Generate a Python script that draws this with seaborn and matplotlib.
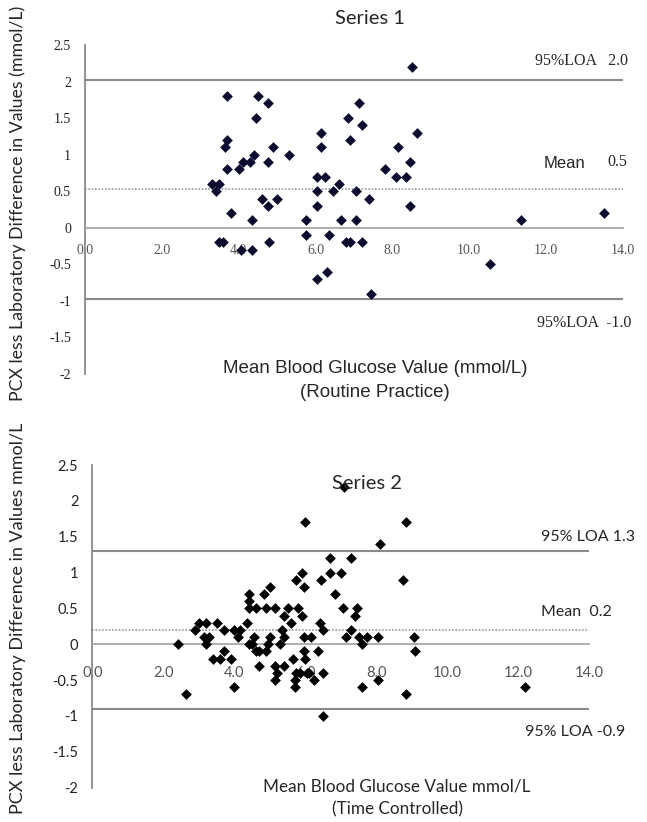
import seaborn as sns
import matplotlib.pyplot as plt

# Series 1 (routine practice): mean glucose vs PCX minus lab difference
s1_mean = [3.3, 3.5, 3.4, 3.5, 3.6, 3.7, 3.7, 3.65, 3.7, 3.8, 4.0, 4.1, 4.05, 4.3, 4.4,
           4.35, 4.35, 4.45, 4.5, 4.6, 4.75, 4.75, 4.75, 4.8, 4.9, 5.0, 5.3, 5.75, 5.75,
           6.05, 6.05, 6.05, 6.05, 6.15, 6.15, 6.25, 6.3, 6.35, 6.45, 6.6, 6.65, 6.8,
           6.85, 6.9, 6.9, 7.05, 7.05, 7.13, 7.2, 7.2, 7.4, 7.45, 7.8, 8.1, 8.15, 8.35,
           8.45, 8.45, 8.5, 8.65, 10.55, 11.35, 13.5]
s1_diff = [0.6, 0.6, 0.5, -0.2, -0.2, 1.8, 1.2, 1.1, 0.8, 0.2, 0.8, 0.9, -0.3, 0.9, 1.0,
           0.1, -0.3, 1.5, 1.8, 0.4, 1.7, 0.9, 0.3, -0.2, 1.1, 0.4, 1.0, 0.1, -0.1,
           0.7, 0.5, 0.3, -0.7, 1.3, 1.1, 0.7, -0.6, -0.1, 0.5, 0.6, 0.1, -0.2,
           1.5, 1.2, -0.2, 0.5, 0.1, 1.7, 1.4, -0.2, 0.4, -0.9, 0.8, 0.7, 1.1, 0.7,
           0.9, 0.3, 2.2, 1.3, -0.5, 0.1, 0.2]
s1_limits = [2.02, 0.53, -0.97]

# Series 2 (time controlled)
s2_mean = [2.4, 2.65, 2.9, 3.0, 3.2, 3.15, 3.3, 3.2, 3.5, 3.7, 3.4, 3.6, 3.9, 3.7, 4.0,
           4.0, 4.15, 4.1, 4.35, 4.4, 4.4, 4.4, 4.6, 4.4, 4.5, 4.55, 4.6, 4.7, 4.9, 4.7,
           4.85, 5.0, 4.9, 5.15, 5.0, 4.95, 5.15, 5.2, 5.15, 5.4, 5.3, 5.4, 5.35, 5.4,
           5.5, 5.6, 5.75, 5.9, 5.95, 5.8, 5.9, 5.95, 5.95, 6.0, 5.65, 5.7, 5.7, 5.85,
           6.05, 6.7, 7.3, 6.45, 6.7, 7.0, 6.85, 8.75, 6.4, 6.5, 7.05, 7.45, 7.4, 7.3,
           7.15, 6.15, 7.5, 7.75, 8.05, 7.6, 9.05, 9.1, 6.35, 5.75, 6.1, 6.25, 6.5,
           7.6, 8.05, 8.85, 6.5, 7.1, 6.0, 8.85, 8.1, 12.2]
s2_diff = [0.0, -0.7, 0.2, 0.3, 0.3, 0.1, 0.1, 0.0, 0.3, 0.2, -0.2, -0.2, -0.2, -0.1, -0.6,
           0.2, 0.2, 0.1, 0.3, 0.7, 0.6, 0.5, 0.5, 0.0, 0.0, 0.1, -0.1, -0.1, -0.1, -0.3,
           0.7, 0.8, 0.5, 0.5, 0.1, 0.0, -0.3, -0.4, -0.5, -0.3, 0.0, 0.1, 0.2, 0.4,
           0.5, 0.3, 0.9, 1.0, 0.8, 0.5, 0.4, 0.1, -0.1, -0.2, -0.2, -0.5, -0.6, -0.4,
           -0.4, 1.2, 1.2, 0.9, 1.0, 1.0, 0.7, 0.9, 0.3, 0.2, 0.5, 0.5, 0.4, 0.2,
           0.1, 0.1, 0.1, 0.1, 0.1, 0.0, 0.1, -0.1, -0.1, -0.4, -0.4, -0.5, -0.4,
           -0.6, -0.5, -0.7, -1.0, 2.2, 1.7, 1.7, 1.4, -0.6]
s2_limits = [1.3, 0.2, -0.9]

x_ticks = [0, 2, 4, 6, 8, 10, 12, 14]
x_ticklabels = ['0.0', '2.0', '4.0', '6.0', '8.0', '10.0', '12.0', '14.0']
y_ticks = [2.5, 2, 1.5, 1, 0.5, 0, -0.5, -1, -1.5, -2]
y_ticklabels = ['2.5', '2', '1.5', '1', '0.5', '0', '-0.5', '-1', '-1.5', '-2']

sns.set_style('white')
W, H = 647, 822
fig = plt.figure(figsize=(W / 100, H / 100), dpi=100)


def box(left, top, right, bottom):
    return [left / W, 1 - bottom / H, (right - left) / W, (bottom - top) / H]


def draw_panel(ax, xs, ys, limits, color, tick_family, tick_size, xpad):
    sns.scatterplot(x=xs, y=ys, ax=ax, marker='D', s=30, color=color,
                    edgecolor=color, linewidth=0, zorder=3)
    ax.set_xlim(0, 14)
    ax.set_ylim(-2, 2.5)
    ax.axhline(limits[0], color='#8a8a8a', lw=1.5, zorder=1)
    ax.axhline(limits[1], color='#9a9a9a', lw=1.2, ls=(0, (1, 1)), zorder=1)
    ax.axhline(limits[2], color='#8a8a8a', lw=1.5, zorder=1)
    for side in ['top', 'right']:
        ax.spines[side].set_visible(False)
    ax.spines['bottom'].set_position(('data', 0))
    ax.spines['bottom'].set_color('#a0a0a0')
    ax.spines['left'].set_color('#808080')
    ax.spines['bottom'].set_linewidth(1.2)
    ax.spines['left'].set_linewidth(1.2)
    ax.set_xticks(x_ticks)
    ax.set_xticklabels(x_ticklabels, family=tick_family, fontsize=tick_size, color='#555555')
    ax.set_yticks(y_ticks)
    ax.set_yticklabels(y_ticklabels, family=tick_family, fontsize=tick_size, color='#222222')
    ax.tick_params(axis='x', direction='out', length=3, color='#a0a0a0', pad=xpad)
    ax.tick_params(axis='y', direction='out', length=4, color='#808080', pad=6)
    ax.set_xlabel('')
    ax.set_ylabel('')
    ax.patch.set_alpha(0)


# top panel
ax1 = fig.add_axes(box(85, 45, 623, 374))
draw_panel(ax1, s1_mean, s1_diff, s1_limits, '#0b0b2e', 'Liberation Serif', 10, 9)
ax1.text(11.7, 2.28, '95%LOA   2.0', family='Liberation Serif', fontsize=11.5,
         va='center', clip_on=False)
ax1.text(11.94, 0.88, 'Mean', family='Liberation Sans', fontsize=12,
         va='center', clip_on=False)
ax1.text(13.6, 0.9, '0.5', family='Liberation Serif', fontsize=11.5,
         va='center', clip_on=False)
ax1.text(11.75, -1.3, '95%LOA  -1.0', family='Liberation Serif', fontsize=11.5,
         va='center', clip_on=False)
fig.text(370 / W, 1 - 18 / H, 'Series 1', family='Lato', fontsize=14.5,
         ha='center', va='center')
fig.text(375 / W, 1 - 368 / H, 'Mean Blood Glucose Value (mmol/L)',
         family='Liberation Sans', fontsize=13.5, ha='center', va='center')
fig.text(375 / W, 1 - 392 / H, '(Routine Practice)',
         family='Liberation Sans', fontsize=13.5, ha='center', va='center')
fig.text(18 / W, 1 - 203 / H, 'PCX less Laboratory Difference in Values (mmol/L)',
         family='Lato', fontsize=12.8, rotation=90, ha='center', va='center')

# bottom panel
ax2 = fig.add_axes(box(92.3, 465, 589.3, 787.6))
draw_panel(ax2, s2_mean, s2_diff, s2_limits, '#000000', 'Lato', 10.5, 13)
ax2.text(12.64, 1.5, '95% LOA 1.3', family='Lato', fontsize=11.5,
         va='center', clip_on=False)
ax2.text(12.64, 0.45, 'Mean  0.2', family='Lato', fontsize=11.5,
         va='center', clip_on=False)
ax2.text(12.2, -1.22, '95% LOA -0.9', family='Lato', fontsize=11.5,
         va='center', clip_on=False)
fig.text(367 / W, 1 - 483 / H, 'Series 2', family='Lato', fontsize=14.5,
         ha='center', va='center')
fig.text(397 / W, 1 - 786 / H, 'Mean Blood Glucose Value mmol/L',
         family='Lato', fontsize=12.3, ha='center', va='center')
fig.text(397 / W, 1 - 809 / H, '(Time Controlled)',
         family='Lato', fontsize=12.3, ha='center', va='center')
fig.text(18 / W, 1 - 618 / H, 'PCX less Laboratory Difference in Values mmol/L',
         family='Lato', fontsize=13, rotation=90, ha='center', va='center')

fig.savefig('out.png', dpi=100)
